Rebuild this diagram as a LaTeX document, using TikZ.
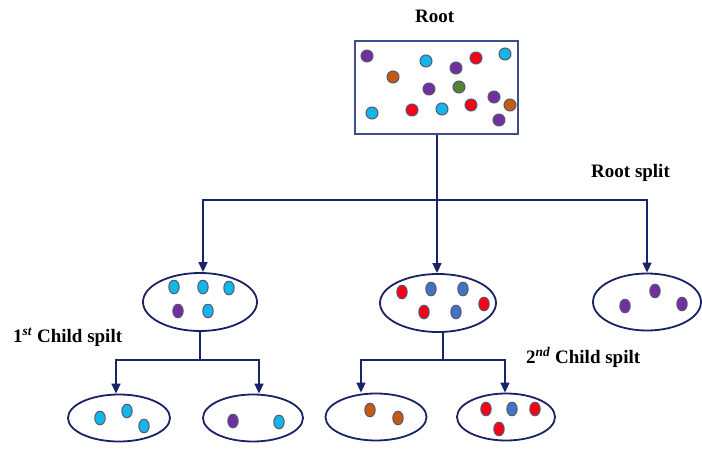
\documentclass[tikz,border=0pt]{standalone}
\usepackage{fontspec}
\setmainfont{Liberation Serif}
\usetikzlibrary{shapes.geometric,arrows.meta}
\definecolor{linenavy}{RGB}{24,38,105}
\definecolor{rectblue}{RGB}{62,78,140}
\definecolor{ellnavy}{RGB}{24,34,100}
\definecolor{dcyan}{RGB}{20,182,232}
\definecolor{dpurple}{RGB}{112,48,160}
\definecolor{dred}{RGB}{250,0,20}
\definecolor{dorange}{RGB}{197,90,17}
\definecolor{dgreen}{RGB}{84,130,53}
\definecolor{dblue}{RGB}{68,114,196}
\definecolor{dotedge}{RGB}{85,88,110}
\newcommand\pdot[3]{\filldraw[dotline,fill=#3] (#1,#2) circle [x radius=5.2pt, y radius=6.8pt];}
\newcommand\rdot[3]{\filldraw[dotline,fill=#3] (#1,#2) circle [radius=6pt];}
\tikzset{
  dotline/.style={draw=dotedge,line width=1pt},
  conn/.style={draw=linenavy,line width=1.6pt},
  arr/.style={conn,-{Triangle[width=9pt,length=10pt]}},
  cluster/.style={ellipse,draw=ellnavy,line width=1.8pt,inner sep=0pt},
  lbl/.style={font=\fontsize{19}{21}\selectfont\bfseries,inner sep=0pt,anchor=base west}
}
\begin{document}
\begin{tikzpicture}[x=1pt,y=-1pt]
\useasboundingbox (0,0) rectangle (702,450);
% texts
\node[lbl] (troot) at (415,22) {Root};
\node[lbl] (tsplit) at (591,177) {Root split};
\node[lbl] (tc1) at (13,342) {1\textsuperscript{\textit{st}} Child spilt};
\node[lbl] (tc2) at (526,363) {2\textsuperscript{\textit{nd}} Child spilt};
% root
\node[draw=rectblue,line width=1.8pt,minimum width=163pt,minimum height=93pt,inner sep=0pt] (root) at (436.5,87.5) {};
% children
\node[cluster,minimum width=114pt,minimum height=58pt] (c1) at (200,302) {};
\node[cluster,minimum width=116pt,minimum height=58pt] (c2) at (438,303) {};
\node[cluster,minimum width=108pt,minimum height=57pt] (c3) at (647,302) {};
% grandchildren
\node[cluster,minimum width=102pt,minimum height=47pt] (g1) at (119,418) {};
\node[cluster,minimum width=100pt,minimum height=47pt] (g2) at (253,418) {};
\node[cluster,minimum width=101pt,minimum height=47pt] (g3) at (376,417) {};
\node[cluster,minimum width=98pt,minimum height=47pt] (g4) at (506,417) {};
% junctions
\coordinate (jr) at (437,200);
\coordinate (j1) at (200,360);
\coordinate (j2) at (443,360);
% connectors
\draw[conn] (root.south -| jr) -- (jr);
\draw[arr] (jr) -| ([xshift=3pt]c1.north);
\draw[arr] (jr) -- (c2.north -| jr);
\draw[arr] (jr) -| (c3.north);
\draw[conn] (c1.south) -- (j1);
\draw[arr] (j1) -| ([xshift=-3pt]g1.north);
\draw[arr] (j1) -| ([xshift=6pt]g2.north);
\draw[conn] (c2.south -| j2) -- (j2);
\draw[arr] (j2) -| ([xshift=-15pt]g3.north);
\draw[arr] (j2) -| ([xshift=-1pt]g4.north);
% root dots
\rdot{367}{56}{dpurple}
\rdot{426}{61}{dcyan}
\rdot{476}{58}{dred}
\rdot{505}{54}{dcyan}
\rdot{393}{77}{dorange}
\rdot{456}{68}{dpurple}
\rdot{429}{89}{dpurple}
\rdot{459}{87}{dgreen}
\rdot{494}{97}{dpurple}
\rdot{510}{105}{dorange}
\rdot{372}{113}{dcyan}
\rdot{412}{110}{dred}
\rdot{442}{109}{dcyan}
\rdot{471}{105}{dred}
\rdot{499}{120}{dpurple}
% child 1 dots
\pdot{174}{287}{dcyan}
\pdot{203}{287}{dcyan}
\pdot{229}{288}{dcyan}
\pdot{178}{311}{dpurple}
\pdot{208}{311}{dcyan}
% child 2 dots
\pdot{402}{292}{dred}
\pdot{431}{289}{dblue}
\pdot{463}{289}{dblue}
\pdot{484}{304}{dred}
\pdot{424}{312}{dred}
\pdot{456}{312}{dblue}
% child 3 dots
\pdot{655}{291}{dpurple}
\pdot{625}{306}{dpurple}
\pdot{682}{304}{dpurple}
% grandchild dots
\pdot{100}{418}{dcyan}
\pdot{127}{411}{dcyan}
\pdot{144}{426}{dcyan}
\pdot{233}{421}{dpurple}
\pdot{279}{422}{dcyan}
\pdot{370}{410}{dorange}
\pdot{398}{418}{dorange}
\pdot{486}{409}{dred}
\pdot{512}{409}{dblue}
\pdot{535}{409}{dred}
\pdot{499}{429}{dred}
\end{tikzpicture}
\end{document}
